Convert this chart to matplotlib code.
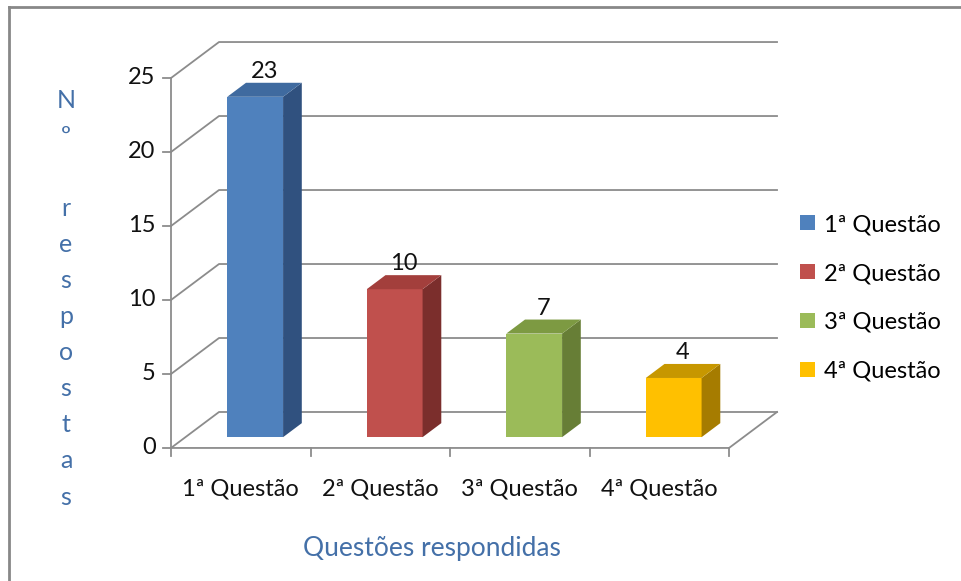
import matplotlib.pyplot as plt
from matplotlib.patches import Polygon, Patch
from matplotlib.lines import Line2D

plt.rcParams['font.family'] = ['Lato', 'DejaVu Sans']

categorias = ['1ª Questão', '2ª Questão', '3ª Questão', '4ª Questão']
respostas = [23, 10, 7, 4]
ticks_y = [0, 5, 10, 15, 20, 25]
titulo_x = 'Questões respondidas'
titulo_y = ['N', 'º', '', 'r', 'e', 's', 'p', 'o', 's', 't', 'a', 's']

cor_frente = ['#4F81BD', '#C0504D', '#9BBB59', '#FFC000']
cor_lado = ['#30517F', '#7B2E2C', '#677E36', '#A67C00']
cor_topo = ['#3F6A9F', '#A33F3C', '#7D9A42', '#C79700']
cor_grade = '#8C8C8C'
cor_titulo = '#4470A8'

# efeito 3D: deslocamento da parede do fundo (em unidades de categoria / valor)
dx, dy = 0.344, 2.43
f1, f2 = 0.30, 0.69   # profundidade da face da frente e de tras das barras
larg = 0.40

fig = plt.figure(figsize=(9.62, 5.81), dpi=100)
ax = fig.add_axes([0, 0, 1, 1])
ax.set_xlim(-1.226, 5.670)
ax.set_ylim(-8.99, 30.27)
ax.axis('off')

n = len(categorias)
top = ticks_y[-1]

# grade: parede esquerda + parede do fundo
for v in ticks_y:
    ax.plot([0, dx, n + dx], [v, v + dy, v + dy], color=cor_grade, lw=1.3, zorder=1)
    ax.plot([-0.06, 0], [v, v], color=cor_grade, lw=1.3, zorder=1)
# chao
ax.plot([0, n, n + dx], [0, 0, dy], color=cor_grade, lw=1.3, zorder=1)
ax.plot([0, 0], [0, top], color=cor_grade, lw=1.3, zorder=1)
for i in range(n + 1):
    ax.plot([i, i], [0, -0.55], color=cor_grade, lw=1.3, zorder=1)

# barras 3D
for i, val in enumerate(respostas):
    x0 = i + 0.5 - larg / 2 + f1 * dx
    x1 = x0 + larg
    b = f1 * dy
    ddx, ddy = (f2 - f1) * dx, (f2 - f1) * dy
    frente = [(x0, b), (x1, b), (x1, b + val), (x0, b + val)]
    lado = [(x1, b), (x1 + ddx, b + ddy), (x1 + ddx, b + ddy + val), (x1, b + val)]
    topo = [(x0, b + val), (x1, b + val), (x1 + ddx, b + ddy + val), (x0 + ddx, b + ddy + val)]
    ax.add_patch(Polygon(frente, closed=True, fc=cor_frente[i], ec='none', zorder=3))
    ax.add_patch(Polygon(lado, closed=True, fc=cor_lado[i], ec='none', zorder=3))
    ax.add_patch(Polygon(topo, closed=True, fc=cor_topo[i], ec='none', zorder=3))
    ax.text((x0 + x1) / 2 + ddx / 2, b + ddy + val + 0.05, str(val),
            ha='center', va='bottom', fontsize=17, color='#111111', zorder=4)

# rotulos dos eixos
for v in ticks_y:
    ax.text(-0.11, v, str(v), ha='right', va='center', fontsize=17, color='#111111')
for i, c in enumerate(categorias):
    ax.text(i + 0.5, -2.8, c, ha='center', va='center', fontsize=17, color='#111111')
ax.text(1.87, -6.8, titulo_x, ha='center', va='center', fontsize=19, color=cor_titulo)
for k, letra in enumerate(titulo_y):
    fig.text(66 / 962, 1 - (100 + k * 36.1) / 581, letra, ha='center', va='center',
             fontsize=18, color=cor_titulo)

# legenda
handles = [Patch(facecolor=c) for c in cor_frente]
fig.legend(handles, categorias, loc='center left', bbox_to_anchor=(0.81, 0.487),
           frameon=False, fontsize=17, handlelength=0.6, handleheight=0.6,
           handletextpad=0.4, labelspacing=1.18)

# moldura (apenas topo e esquerda visiveis)
fig.add_artist(Line2D([9 / 962, 1], [1 - 7 / 581, 1 - 7 / 581], color='#888888', lw=2))
fig.add_artist(Line2D([9 / 962, 9 / 962], [0, 1 - 7 / 581], color='#888888', lw=2))

fig.savefig('out.png', dpi=100)
